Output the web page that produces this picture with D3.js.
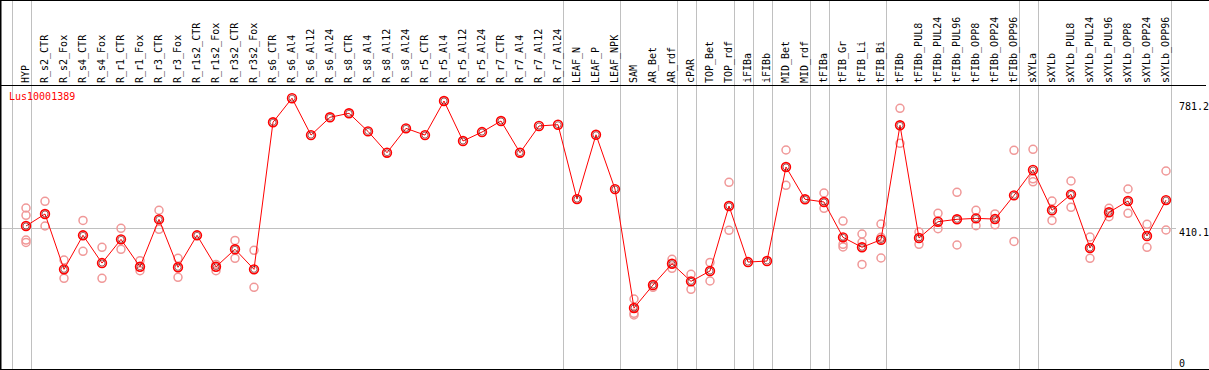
<!DOCTYPE html>
<html><head><meta charset="utf-8">
<script src="https://cdn.jsdelivr.net/npm/d3@7"></script>
<style>
html,body{margin:0;padding:0;background:#fff;overflow:hidden}
svg{display:block}
text{font-family:"DejaVu Sans Mono",monospace;font-size:10px}
</style></head>
<body>
<svg id="chart" width="1209" height="370"></svg>
<script>
const geneName = "Lus10001389";
const categories = ["HYP","R_s2_CTR","R_s2_Fox","R_s4_CTR","R_s4_Fox","R_r1_CTR","R_r1_Fox","R_r3_CTR","R_r3_Fox","R_r1s2_CTR","R_r1s2_Fox","R_r3s2_CTR","R_r3s2_Fox","R_s6_CTR","R_s6_Al4","R_s6_Al12","R_s6_Al24","R_s8_CTR","R_s8_Al4","R_s8_Al12","R_s8_Al24","R_r5_CTR","R_r5_Al4","R_r5_Al12","R_r5_Al24","R_r7_CTR","R_r7_Al4","R_r7_Al12","R_r7_Al24","LEAF_N","LEAF_P","LEAF_NPK","SAM","AR_Bet","AR_rdf","cPAR","TOP_Bet","TOP_rdf","iFIBa","iFIBb","MID_Bet","MID_rdf","tFIBa","tFIB_Gr","tFIB_Li","tFIB_Bi","tFIBb","tFIBb_PUL8","tFIBb_PUL24","tFIBb_PUL96","tFIBb_OPP8","tFIBb_OPP24","tFIBb_OPP96","sXYLa","sXYLb","sXYLb_PUL8","sXYLb_PUL24","sXYLb_PUL96","sXYLb_OPP8","sXYLb_OPP24","sXYLb_OPP96"];
const means = [416.5,452,288.5,389,307,377,296,436,294.5,389,296,347.7,288.5,723,794,685,737.6,749.4,696,633,705,685,785.7,667.6,694,726.7,633,712,715.7,496,686,525.5,174.3,242.2,305,253,283.6,475.6,310,313,590.8,495.4,487.4,383,353.6,376,714,381,429.2,436.3,439,437,507,582,462.9,510,351.5,457,490.3,387,493];
const replicates = [[469.7,448,375,368],[489.5,416.5],[316,262],[433,341.6],[353.5,262],[409.6,347.7],[314,284.5],[463,406.7],[321,265],[],[303,284.5],[374,321],[344.7,235.4],[],[],[],[],[],[],[],[],[],[],[],[],[],[],[],[],[],[],[],[200.9,158.6,153.6],[235.4],[318,291.5],[273.8,229.5],[309,254],[545.6,403.8],[],[],[641,536.7],[],[514,468.8],[431,362.4,354.5],[392.9,368.3,303],[422.4,383,322],[764,660.8],[398.8,362.4],[454,408.6],[516,360.4],[462.9,417.4],[452,420],[640,371],[643,556,547],[490,433],[549.4,471.7],[384,321],[468.8,444],[525.8,454],[421.5,353.6],[579,404.7]];
const groupBreaks = ["HYP","R_r7_Al24","LEAF_NPK","AR_rdf","cPAR","TOP_rdf","iFIBa","iFIBb","MID_rdf","tFIBa","tFIB_Bi","tFIBb_OPP96","sXYLa","sXYLb_OPP96"];
const tickValues = [781.2, 410.1, 0];
const gridValues = [410.1];

const W = 1209, H = 370, headerY = 85.5;
const svg = d3.select("#chart");
const x = d3.scalePoint().domain(categories).range([26, 1166]);
const y = d3.scaleLinear().domain([0, 833]).range([367, 85]);
const step = x.step();

// vertical group separators
const sepX = [x(categories[0]) - step + 4.7].concat(groupBreaks.map(c => x(c) + 4.7));
svg.append("g").selectAll("line").data(sepX).join("line")
  .attr("x1", d => Math.round(d) + 0.5).attr("x2", d => Math.round(d) + 0.5)
  .attr("y1", 0).attr("y2", H)
  .attr("stroke", "#c0c0c0").attr("stroke-width", 1);

// horizontal gridline
svg.append("g").selectAll("line").data(gridValues).join("line")
  .attr("x1", 0).attr("x2", 1176)
  .attr("y1", d => Math.round(y(d)) + 0.5).attr("y2", d => Math.round(y(d)) + 0.5)
  .attr("stroke", "#c0c0c0").attr("stroke-width", 1);

// frame
const frame = svg.append("g").attr("stroke", "#000").attr("stroke-width", 1);
frame.append("line").attr("x1", 0).attr("x2", W).attr("y1", 0.5).attr("y2", 0.5);
frame.append("line").attr("x1", 0).attr("x2", 1206).attr("y1", headerY).attr("y2", headerY);
frame.append("line").attr("x1", 0).attr("x2", W).attr("y1", H - 0.5).attr("y2", H - 0.5);
frame.append("line").attr("x1", 0.5).attr("x2", 0.5).attr("y1", 0).attr("y2", H).attr("stroke-width", 2);

// category labels
svg.append("g").selectAll("text").data(categories).join("text")
  .attr("transform", d => `translate(${Math.round(x(d)) + 3},83) rotate(-90)`)
  .attr("fill", "#000").text(d => d);

// y tick labels
svg.append("g").selectAll("text").data(tickValues).join("text")
  .attr("x", 1179).attr("y", d => Math.min(y(d) + 7.8, 366.5))
  .attr("fill", "#000").text(d => d === 0 ? "0" : d.toFixed(1));

// gene name
svg.append("text").attr("x", 9).attr("y", 100).attr("fill", "#ff0000").text(geneName);

// replicate markers
const repData = [];
categories.forEach((c, i) => replicates[i].forEach(v => repData.push({c, v})));
svg.append("g").selectAll("circle").data(repData).join("circle")
  .attr("cx", d => x(d.c)).attr("cy", d => y(d.v)).attr("r", 4)
  .attr("fill", "none").attr("stroke", "#f09898").attr("stroke-width", 1.5);

// mean line
const line = d3.line().x((d, i) => x(categories[i])).y(d => y(d));
svg.append("path").datum(means).attr("d", line)
  .attr("fill", "none").attr("stroke", "#ff0000").attr("stroke-width", 1);

// mean markers
const mg = svg.append("g");
mg.selectAll("circle.o").data(means).join("circle").attr("class", "o")
  .attr("cx", (d, i) => x(categories[i])).attr("cy", d => y(d)).attr("r", 4.4)
  .attr("fill", "none").attr("stroke", "#ff0000").attr("stroke-width", 1.6);
mg.selectAll("circle.i").data(means).join("circle").attr("class", "i")
  .attr("cx", (d, i) => x(categories[i])).attr("cy", d => y(d)).attr("r", 3)
  .attr("fill", "none").attr("stroke", "#600000").attr("stroke-width", 0.6);
</script>
</body></html>
